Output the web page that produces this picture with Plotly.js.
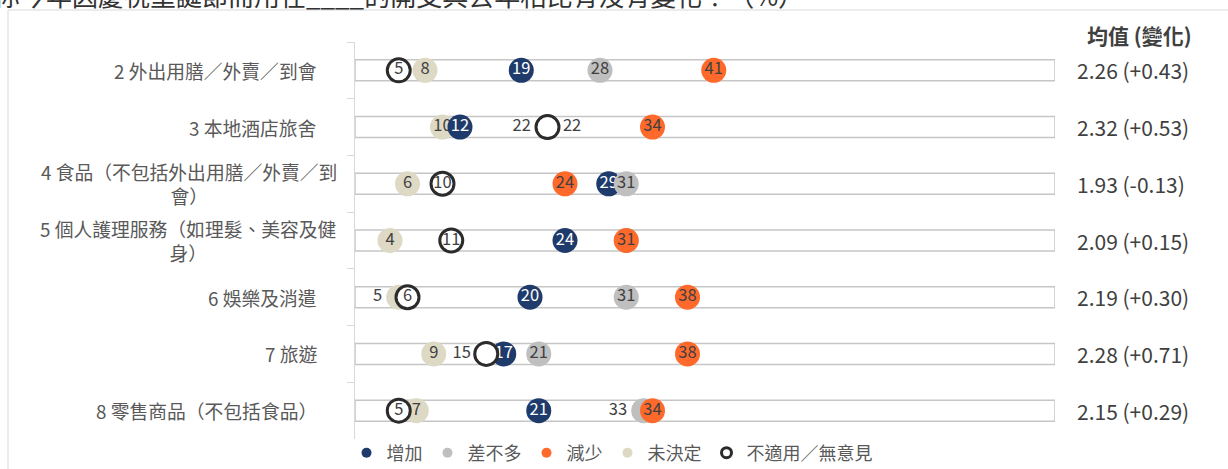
<!DOCTYPE html>
<html>
<head>
<meta charset="utf-8">
<script src="https://cdn.plot.ly/plotly-3.0.1.min.js"></script>
<style>
  html, body { margin: 0; padding: 0; background: #ffffff; }
  #chart { width: 1228px; height: 469px; }
</style>
</head>
<body>
<div id="chart"></div>
<script>
// ---------- data ----------
const titleText = '你今年因慶祝聖誕節而用在____的開支與去年相比有沒有變化？（%）';
const categories = [
  '2 外出用膳／外賣／到會',
  '3 本地酒店旅舍',
  '4 食品（不包括外出用膳／外賣／到<br>會）',
  '5 個人護理服務（如理髮、美容及健<br>身）',
  '6 娛樂及消遣',
  '7 旅遊',
  '8 零售商品（不包括食品）'
];
const seriesNames = ['增加', '差不多', '減少', '未決定', '不適用／無意見'];
const increase   = [19, 12, 29, 24, 20, 17, 21];
const similar    = [28, 22, 31, 31, 31, 21, 33];
const decrease   = [41, 34, 24, 31, 38, 38, 34];
const undecided  = [8, 10, 6, 4, 5, 9, 7];
const notApplic  = [5, 22, 10, 11, 6, 15, 5];
const means      = [2.26, 2.32, 1.93, 2.09, 2.19, 2.28, 2.15];
const changes    = [0.43, 0.53, -0.13, 0.15, 0.30, 0.71, 0.29];
const meanHeader = '均值 (變化)';
const X_MAX = 80;

// ---------- styling ----------
const FONT = '"Noto Sans CJK TC", "Noto Sans", sans-serif';
const C_NAVY = '#1F3B6B';
const C_GRAY = '#BFBFBF';
const C_ORANGE = '#FF6A2C';
const C_BEIGE = '#DDD9C4';
const C_RING = '#2B2B2B';
const TXT = '#404040';
const MS = 25;

function posArr(defaultPos, overrides) {
  return categories.map((_, i) => overrides[i] || defaultPos);
}

function pointTrace(vals, name, color, textColor, positions, ring) {
  return {
    type: 'scatter', mode: 'markers+text',
    x: vals, y: categories,
    text: vals.map(String),
    textposition: positions,
    textfont: { family: FONT, size: 16.5, color: textColor },
    marker: ring
      ? { symbol: 'circle', size: MS - 2, color: '#ffffff', line: { color: C_RING, width: 3 } }
      : { symbol: 'circle', size: MS, color: color, line: { width: 0 } },
    name: name, showlegend: false, hoverinfo: 'x+name', cliponaxis: false
  };
}

function legendTrace(name, color, ring) {
  return {
    type: 'scatter', mode: 'markers', x: [null], y: [null], name: name,
    marker: ring
      ? { symbol: 'circle', size: 10, color: '#ffffff', line: { color: C_RING, width: 3 } }
      : { symbol: 'circle', size: 10, color: color, line: { width: 0 } },
    showlegend: true, hoverinfo: 'skip'
  };
}

const barTrace = {
  type: 'bar', orientation: 'h',
  x: categories.map(() => X_MAX), y: categories,
  width: 0.37,
  marker: { color: '#ffffff', line: { color: '#C6C6C6', width: 1.5 } },
  showlegend: false, hoverinfo: 'skip'
};

const traces = [
  barTrace,
  pointTrace(undecided, seriesNames[3], C_BEIGE, TXT, posArr('middle center', {4: 'middle left'}), false),
  pointTrace(increase, seriesNames[0], C_NAVY, '#ffffff', posArr('middle center', {}), false),
  pointTrace(similar, seriesNames[1], C_GRAY, TXT, posArr('middle center', {1: 'middle left', 6: 'middle left'}), false),
  pointTrace(decrease, seriesNames[2], C_ORANGE, TXT, posArr('middle center', {}), false),
  pointTrace(notApplic, seriesNames[4], null, TXT, posArr('middle center', {1: 'middle right', 5: 'middle left'}), true),
  legendTrace(seriesNames[0], C_NAVY, false),
  legendTrace(seriesNames[1], C_GRAY, false),
  legendTrace(seriesNames[2], C_ORANGE, false),
  legendTrace(seriesNames[3], C_BEIGE, false),
  legendTrace(seriesNames[4], null, true)
];

// ---------- layout geometry ----------
const W = 1228, H = 469;
const M = { l: 355, r: 173, t: 42, b: 30, autoexpand: false };
const PW = W - M.l - M.r, PH = H - M.t - M.b;
const px2x = px => (px - M.l) / PW;
const py2y = py => (H - M.b - py) / PH;

const annotations = [];
// category labels
categories.forEach((c, i) => {
  annotations.push({
    x: 0, xref: 'x', y: i, yref: 'y',
    xanchor: 'right', yanchor: 'middle', align: 'center',
    xshift: c.indexOf('<br>') >= 0 ? -16 : -36,
    text: c, showarrow: false,
    font: { family: FONT, size: 18.8, color: '#595959' }
  });
});
// mean (change) labels
means.forEach((m, i) => {
  const ch = changes[i];
  const s = m.toFixed(2) + ' (' + (ch >= 0 ? '+' : '') + ch.toFixed(2) + ')';
  annotations.push({
    x: X_MAX, xref: 'x', y: i, yref: 'y',
    xanchor: 'left', yanchor: 'middle', xshift: 20,
    text: s, showarrow: false,
    font: { family: FONT, size: 21, color: TXT }
  });
});
// header
annotations.push({
  x: X_MAX, xref: 'x', y: 1, yref: 'paper', xanchor: 'left', yanchor: 'middle',
  xshift: 30, yshift: 7, text: '<b>' + meanHeader + '</b>', showarrow: false,
  font: { family: FONT, size: 21, color: TXT }
});
// title (cut off at top of image)
annotations.push({
  x: px2x(-8), xref: 'paper', y: 1, yref: 'paper', xanchor: 'left', yanchor: 'middle',
  yshift: 48, text: titleText, showarrow: false,
  font: { family: FONT, size: 26, color: '#333333' }
});

const layout = {
  width: W, height: H,
  margin: M,
  paper_bgcolor: '#ffffff', plot_bgcolor: '#ffffff',
  font: { family: FONT, color: TXT },
  barmode: 'overlay',
  xaxis: { range: [0, X_MAX], visible: false, fixedrange: true },
  yaxis: {
    type: 'category', range: [6.5, -0.5],
    showline: true, linecolor: '#D9D9D9', linewidth: 1,
    ticks: 'outside', ticklen: 7, tickcolor: '#D9D9D9', tickwidth: 1,
    tickson: 'boundaries', showgrid: false, zeroline: false,
    showticklabels: false, fixedrange: true
  },
  showlegend: true,
  legend: {
    orientation: 'h', x: px2x(612), xanchor: 'center',
    y: py2y(453), yanchor: 'middle',
    font: { family: FONT, size: 18, color: '#595959' },
    itemwidth: 30, tracegroupgap: 0, bgcolor: 'rgba(0,0,0,0)'
  },
  shapes: [{
    type: 'rect', xref: 'paper', yref: 'paper',
    x0: px2x(8), x1: px2x(1300), y0: py2y(700), y1: py2y(10),
    line: { color: '#D9D9D9', width: 1 }, fillcolor: 'rgba(0,0,0,0)', layer: 'below'
  }],
  annotations: annotations
};

Plotly.newPlot('chart', traces, layout, { displayModeBar: false, staticPlot: true });
</script>
</body>
</html>
